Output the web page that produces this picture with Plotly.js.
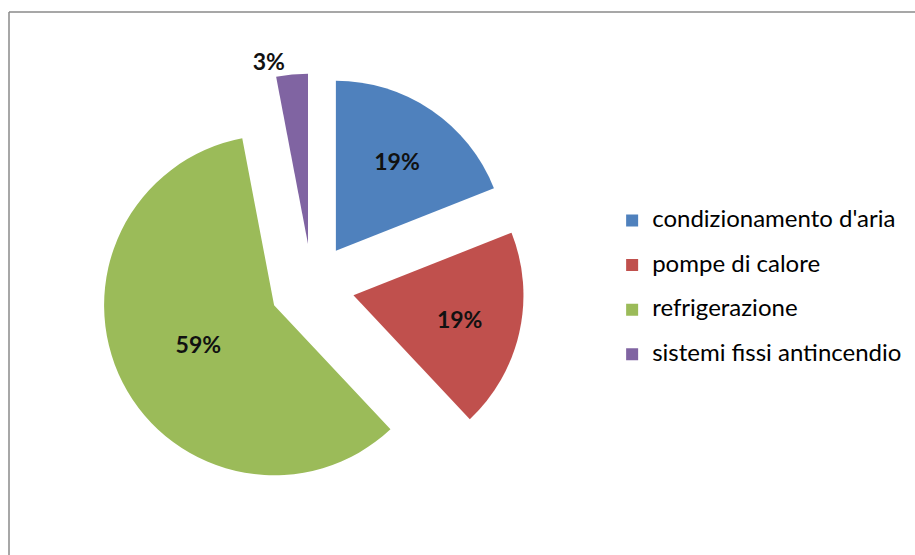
<!DOCTYPE html>
<html><head><meta charset="utf-8">
<script src="https://cdn.plot.ly/plotly-3.0.1.min.js"></script>
<style>html,body{margin:0;padding:0;background:#fff;overflow:hidden}#chart{width:915px;height:555px}</style>
</head><body><div id="chart"></div>
<script>
const categories = ["condizionamento d'aria", "pompe di calore", "refrigerazione", "sistemi fissi antincendio"];
const shares = [19, 19, 59, 3];
const sliceColors = ["#4F81BD", "#C0504D", "#9BBB59", "#8064A2"];
const labelPlacement = ["inside", "inside", "inside", "outside"];

const legendLabels = categories.map(c => '<span style="font-size:24px;baseline-shift:6px">' + c + '</span>');

const trace = {
  type: 'pie',
  labels: legendLabels,
  values: shares,
  sort: false,
  direction: 'clockwise',
  rotation: 0,
  pull: shares.map(() => 0.25),
  marker: {colors: sliceColors, line: {width: 0}},
  textinfo: 'percent',
  textposition: labelPlacement,
  insidetextorientation: 'horizontal',
  textfont: {family: 'Lato, sans-serif', size: 23, color: '#111', weight: 'bold'},
  domain: {x: [0.1087, 0.5732], y: [0.1018, 0.8676]},
  hoverinfo: 'none'
};

const frameX = 9 / 915, frameY = (555 - 12) / 555;
const layout = {
  width: 915, height: 555,
  margin: {l: 0, r: 0, t: 0, b: 0},
  paper_bgcolor: '#fff',
  showlegend: true,
  legend: {
    x: 0.669, xanchor: 'left', y: 0.652, yanchor: 'top',
    font: {family: 'Lato, sans-serif', size: 32, color: '#000'},
    bgcolor: 'rgba(0,0,0,0)'
  },
  shapes: [
    {type: 'line', xref: 'paper', yref: 'paper', x0: frameX, x1: 1, y0: frameY, y1: frameY,
     line: {color: '#8a8a8a', width: 1.5}, layer: 'below'},
    {type: 'line', xref: 'paper', yref: 'paper', x0: frameX, x1: frameX, y0: 0, y1: frameY,
     line: {color: '#8a8a8a', width: 1.5}, layer: 'below'}
  ]
};

Plotly.newPlot('chart', [trace], layout, {displayModeBar: false, staticPlot: true});
</script></body></html>
